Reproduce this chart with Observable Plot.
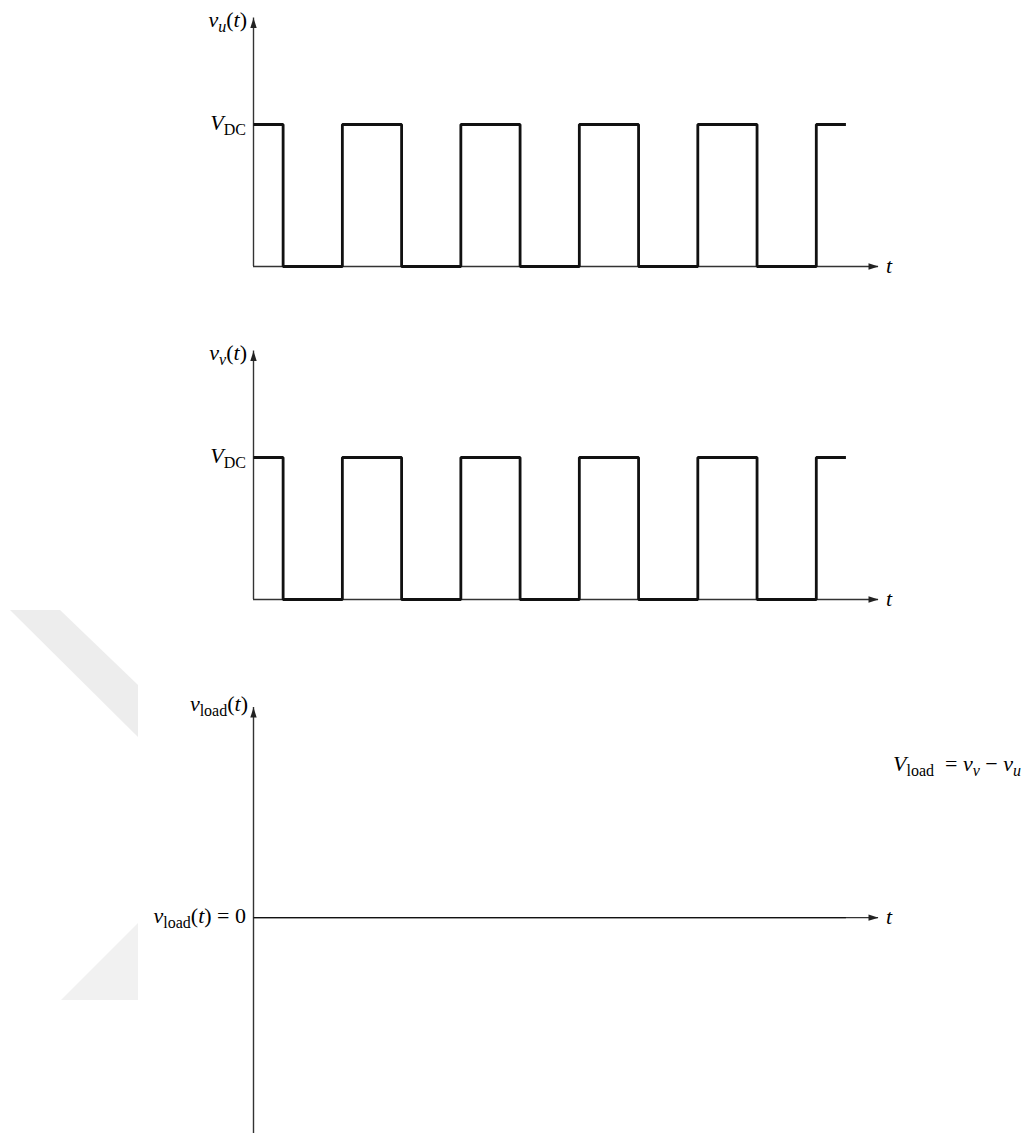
<!DOCTYPE html>
<html><head><meta charset="utf-8">
<script src="https://cdn.jsdelivr.net/npm/d3@7"></script>
<script src="https://cdn.jsdelivr.net/npm/@observablehq/plot@0.6"></script>
<style>
html,body{margin:0;padding:0;background:#fff;}
#wrap{position:relative;width:1030px;height:1133px;overflow:hidden;background:#fff;}
#wrap svg{position:absolute;left:0;}
#wrap text.math, #wrap text.math tspan{font-family:"Liberation Serif","DejaVu Serif",serif !important;}
</style></head><body><div id="wrap"></div>
<script>
// ---- data ----
const switchTimes = [0, 0.5, 1.5, 2.5, 3.5, 4.5, 5.5, 6.5, 7.5, 8.5, 9.5, 10];
const vuLevels    = [1, 0, 1, 0, 1, 0, 1, 0, 1, 0, 1, 1];
const vvLevels    = [1, 0, 1, 0, 1, 0, 1, 0, 1, 0, 1, 1];
const vloadLevels = [0, 0, 0, 0, 0, 0, 0, 0, 0, 0, 0, 0];
const tAxisEnd = 10.55;

const AX = "#333";
const arrowUp = {draw(ctx) { ctx.moveTo(0, 0); ctx.lineTo(-3.2, 10); ctx.lineTo(3.2, 10); ctx.closePath(); }};

const wrap = document.getElementById("wrap");

// faint watermark shapes
const wm = d3.select(wrap).append("svg").attr("width", 1030).attr("height", 1133).style("top", "0px");
wm.append("polygon").attr("points", "10,610 60,610 138,685 138,737").attr("fill", "#ededed");
wm.append("polygon").attr("points", "138,923 138,1000 61,1000").attr("fill", "#f1f1f1");

function addMath(svg, x, y, parts, anchor = "end") {
  const text = d3.select(svg).append("text").attr("class", "math")
    .attr("x", x).attr("y", y).attr("text-anchor", anchor)
    .style("font-family", '"Liberation Serif","DejaVu Serif",serif')
    .style("fill", "#000").style("white-space", "pre");
  let shift = 0;
  for (const p of parts) {
    const target = p.sub ? 5 : 0;
    text.append("tspan").attr("dy", target - shift)
      .style("font-size", (p.sub ? 16 : 22) + "px")
      .style("font-style", p.it ? "italic" : "normal")
      .text(p.s);
    shift = target;
  }
}

function panel({top, height, yDomain, marginTop, marginBottom, levels, thick}) {
  const data = switchTimes.map((t, i) => ({t, v: levels[i]}));
  const marks = [
    Plot.ruleX([0], {y1: yDomain[0] < 0 ? yDomain[0] : 0, y2: yDomain[1], stroke: AX, strokeWidth: 1.4}),
    Plot.ruleY([0], {x1: 0, x2: tAxisEnd, stroke: AX, strokeWidth: 1.4}),
    Plot.line(data, {x: "t", y: "v", curve: "step-after", stroke: "#111",
      strokeWidth: thick ? 2.8 : 1.4, strokeLinejoin: "miter", strokeLinecap: "butt"}),
    Plot.dot([{t: 0, v: yDomain[1]}], {x: "t", y: "v", symbol: arrowUp, fill: "#222", stroke: "none", r: 5}),
    Plot.dot([{t: tAxisEnd, v: 0}], {x: "t", y: "v", symbol: arrowUp, fill: "#222", stroke: "none", r: 5, rotate: 90})
  ];
  const p = Plot.plot({
    width: 1030, height,
    marginLeft: 253, marginRight: 152, marginTop, marginBottom,
    x: {domain: [0, tAxisEnd], axis: null},
    y: {domain: yDomain, axis: null},
    style: {background: "transparent", overflow: "visible"},
    marks
  });
  p.style.top = top + "px";
  wrap.appendChild(p);
  return p;
}

// panel 1: v_u(t)
const p1 = panel({top: 0, height: 333, yDomain: [0, 1.75], marginTop: 17.5, marginBottom: 67, levels: vuLevels, thick: true});
// panel 2: v_v(t)
const p2 = panel({top: 333, height: 333, yDomain: [0, 1.75], marginTop: 17.5, marginBottom: 67, levels: vvLevels, thick: true});
// panel 3: v_load(t)
const p3 = panel({top: 666, height: 467, yDomain: [-1.52, 1.48], marginTop: 41, marginBottom: 0, levels: vloadLevels, thick: false});

for (const [p, sub] of [[p1, "u"], [p2, "v"]]) {
  const x = p.scale("x"), y = p.scale("y");
  addMath(p, x.apply(0) - 6, y.apply(1.75) + 9, [{s: "v", it: true}, {s: sub, it: true, sub: true}, {s: "("}, {s: "t", it: true}, {s: ")"}]);
  addMath(p, x.apply(0) - 7, y.apply(1) + 6, [{s: "V", it: true}, {s: "DC", sub: true}]);
  addMath(p, x.apply(tAxisEnd) + 8, y.apply(0) + 7, [{s: "t", it: true}], "start");
}
{
  const x = p3.scale("x"), y = p3.scale("y");
  addMath(p3, x.apply(0) - 5, y.apply(1.48) + 4, [{s: "v", it: true}, {s: "load", sub: true}, {s: "("}, {s: "t", it: true}, {s: ")"}]);
  addMath(p3, x.apply(0) - 7, y.apply(0) + 6, [{s: "v", it: true}, {s: "load", sub: true}, {s: "("}, {s: "t", it: true}, {s: ") = 0"}]);
  addMath(p3, x.apply(tAxisEnd) + 8, y.apply(0) + 7, [{s: "t", it: true}], "start");
  addMath(p3, 893, y.apply(1.48) + 64, [{s: "V", it: true}, {s: "load", sub: true}, {s: "  = "}, {s: "v", it: true}, {s: "v", it: true, sub: true}, {s: " − "}, {s: "v", it: true}, {s: "u", it: true, sub: true}], "start");
}
</script>
</body></html>
